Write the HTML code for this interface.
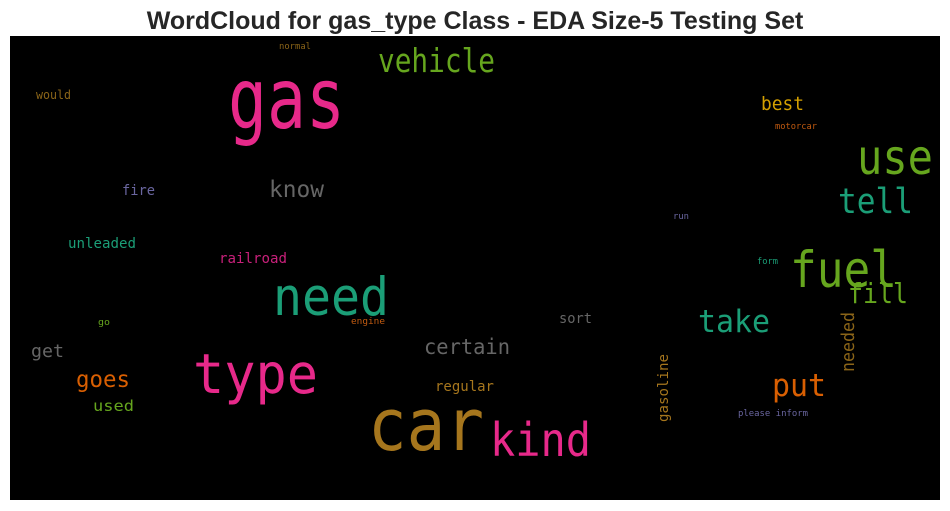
<!DOCTYPE html>
<html><head><meta charset="utf-8"><style>
html,body{margin:0;padding:0;background:#fff;width:950px;height:511px;overflow:hidden}
svg{display:block}
</style></head><body>
<svg id="wc" width="950" height="511" xmlns="http://www.w3.org/2000/svg">
<text x="475" y="29" text-anchor="middle" font-family="Liberation Sans, sans-serif" font-weight="bold" font-size="25" fill="#262626">WordCloud for gas_type Class - EDA Size-5 Testing Set</text>
<rect x="10" y="36" width="930" height="464" fill="#000"/>
<g id="words" font-family="DejaVu Sans Mono, Liberation Mono, monospace"></g>
</svg>
<script>
const words = ["gas","vehicle","would","normal","best","motorcar","use","tell","fire","know","run","unleaded","railroad","form","fuel","fill","need","go","engine","sort","take","needed","certain","get","gasoline","goes","type","regular","put","used","please inform","car","kind"];
const sizes = [84,33,12,9,19,9,48,35,14,23,9,14,14,9,50,28,53,9,9,14,31,18,21,18,14,23,55,14,31,15,9,72,46];
const colors = ["#e7298a","#66a61e","#8a6418","#8a6418","#d4a000","#c05a10","#66a61e","#1b9e77","#6a66a0","#666666","#6a66a0","#1b9e77","#c8207a","#1b9e77","#66a61e","#66a61e","#1b9e77","#66a61e","#c05a10","#666666","#1b9e77","#8a6418","#666666","#666666","#a6761d","#d95f02","#e7298a","#a6761d","#d95f02","#66a61e","#6a66a0","#a6761d","#e7298a"];
const lefts = [228,378,36,279,761,775,857,838,122,269,673,68,219,757,790,848,273,98,351,559,698,840,424,31,656,76,193,435,772,93,738,368,490];
const rights = [345,495,71,311,804,817,933,913,155,324,689,136,287,778,897,908,389,110,385,592,770,858,510,64,672,130,318,494,826,134,808,484,591];
const bases = [128,72,99,49,110,129,174,213,195,197,219,248,263,264,287,303,315,325,324,323,332,312,354,357,354,387,393,391,396,411,416,450,456];
const spans = [0,0,0,0,0,0,0,0,0,0,0,0,0,0,0,0,0,0,0,0,0,372,0,0,422,0,0,0,0,0,0,0,0];
const g = document.getElementById('words');
const NS = "http://www.w3.org/2000/svg";
words.forEach((w,i)=>{
  const t = document.createElementNS(NS,'text');
  t.textContent = w;
  t.setAttribute('font-size', sizes[i]);
  t.setAttribute('fill', colors[i]);
  if (spans[i]) {
    const len = spans[i]-bases[i];
    t.setAttribute('x', 0); t.setAttribute('y', 0);
    t.setAttribute('textLength', len);
    t.setAttribute('lengthAdjust','spacingAndGlyphs');
    t.setAttribute('transform', `translate(${rights[i]-4},${spans[i]}) rotate(-90)`);
  } else {
    t.setAttribute('x', lefts[i]); t.setAttribute('y', bases[i]);
    t.setAttribute('textLength', rights[i]-lefts[i]);
    t.setAttribute('lengthAdjust','spacingAndGlyphs');
  }
  
  
  g.appendChild(t);
});
</script>
</body></html>
